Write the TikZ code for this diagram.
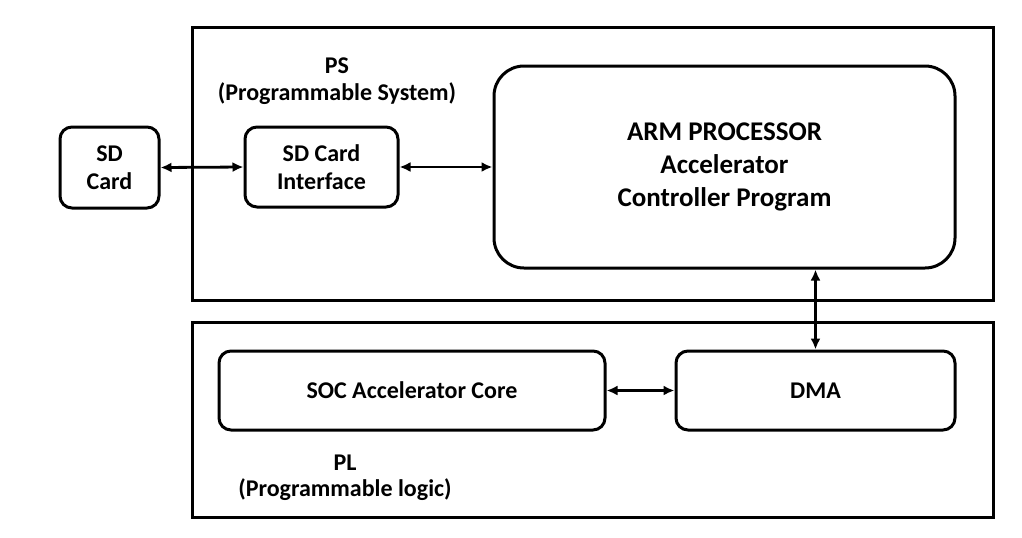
\documentclass[tikz,border=0pt]{standalone}
\usepackage{fontspec}
\setmainfont{Carlito}
\usepackage{tikz}
\usetikzlibrary{arrows.meta,positioning}

\tikzset{
  blockbox/.style={draw,line width=1.5pt,rounded corners=6pt,align=center,
    font=\fontsize{12}{14}\selectfont\bfseries,inner sep=0pt},
  regionbox/.style={draw,line width=1.5pt,inner sep=0pt},
  regionlabel/.style={align=center,font=\fontsize{12}{13.2}\selectfont\bfseries},
  biarrow/.style={{Latex[length=5.5pt,width=5pt]}-{Latex[length=5.5pt,width=5pt]},line width=1.4pt}
}

\begin{document}
\begin{tikzpicture}[x=0.5pt,y=-0.5pt]
\useasboundingbox (0,0) rectangle (1022,537);
% regions
\node[regionbox,minimum width=801*0.5pt,minimum height=273*0.5pt] (ps) at (592.5,163.5) {};
\node[regionbox,minimum width=801*0.5pt,minimum height=195*0.5pt] (pl) at (592.5,419.5) {};
\node[regionlabel] (pslabel) at (337,81) {PS\\(Programmable System)};
\node[regionlabel] (pllabel) at (345,478) {PL\\(Programmable logic)};
% blocks
\node[blockbox,minimum width=99*0.5pt,minimum height=81*0.5pt] (sdcard) at (109.5,167.5) {SD\\Card};
\node[blockbox,minimum width=153*0.5pt,minimum height=80*0.5pt] (sdif) at (321.5,167) {SD Card\\Interface};
\node[blockbox,rounded corners=15pt,minimum width=461*0.5pt,minimum height=202*0.5pt,
  font=\fontsize{13.5}{16.5}\selectfont\bfseries] (arm) at (724.5,167) {ARM PROCESSOR\\Accelerator\\Controller Program};
\node[blockbox,minimum width=386*0.5pt,minimum height=79*0.5pt] (soc) at (412,390.5) {SOC Accelerator Core};
\node[blockbox,minimum width=279*0.5pt,minimum height=79*0.5pt] (dma) at (815.5,390.5) {DMA};
% links
\draw[biarrow] (sdcard.east) -- (sdif.west);
\draw[biarrow] (sdif.east) -- (sdif.east -| arm.west);
\draw[biarrow] (dma.north |- arm.south) -- (dma.north);
\draw[biarrow] (soc.east) -- (dma.west);
\end{tikzpicture}
\end{document}
